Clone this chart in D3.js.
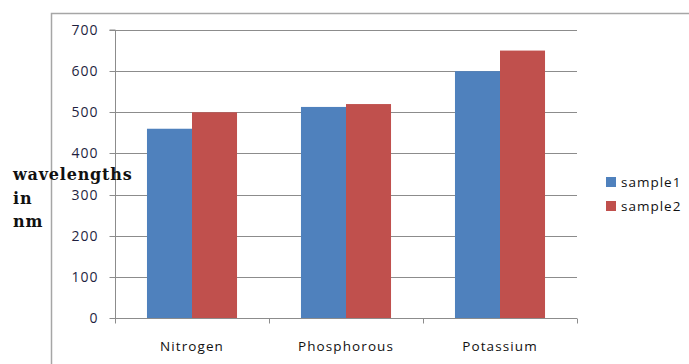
<!DOCTYPE html>
<html><head><meta charset="utf-8">
<script src="https://cdn.jsdelivr.net/npm/d3@7"></script>
<style>body{margin:0;background:#fff;}svg{display:block;}</style>
</head><body>
<script>
const categories = ["Nitrogen", "Phosphorous", "Potassium"];
const seriesNames = ["sample1", "sample2"];
const sample1 = [460, 513, 600];
const sample2 = [500, 520, 650];
const yTicks = [0, 100, 200, 300, 400, 500, 600, 700];
const colors = ["#4F81BD", "#C0504D"];

(function () {
const W = 689, H = 364;
const svg = d3.select("body").append("svg").attr("width", W).attr("height", H);
const font = "'Open Sans', 'Liberation Sans', sans-serif";

// outer frame
svg.append("rect").attr("x", 51.5).attr("y", 13.5).attr("width", 700).attr("height", 400)
  .attr("fill", "none").attr("stroke", "#A6A6A6").attr("stroke-width", 1.5);

const pl = 115, pr = 577, pt = 30, pb = 318;
const x = d3.scaleBand().domain(categories).range([pl, pr]).paddingInner(0).paddingOuter(0);
const y = d3.scaleLinear().domain([0, 700]).range([pb, pt]);

// gridlines
svg.append("g").selectAll("line").data(yTicks.filter(d => d > 0)).join("line")
  .attr("x1", pl).attr("x2", pr)
  .attr("y1", d => Math.round(y(d)) + 0.5).attr("y2", d => Math.round(y(d)) + 0.5)
  .attr("stroke", "#8C8C8C").attr("stroke-width", 1);

// bars
const inner = d3.scaleBand().domain(seriesNames).range([0, x.bandwidth()]).paddingOuter(0.71).paddingInner(0);
const data = [sample1, sample2];
seriesNames.forEach((s, si) => {
  svg.append("g").selectAll("rect").data(categories).join("rect")
    .attr("x", c => x(c) + inner(s))
    .attr("width", inner.bandwidth())
    .attr("y", (c, i) => y(data[si][i]))
    .attr("height", (c, i) => pb - y(data[si][i]))
    .attr("fill", colors[si]);
});

// y axis
const yAxis = svg.append("g").attr("transform", `translate(${pl + 0.5},0)`)
  .call(d3.axisLeft(y).tickValues(yTicks).tickSize(6).tickPadding(6).tickFormat(d3.format("d")));
yAxis.select(".domain").attr("stroke", "#8C8C8C").attr("d", `M-6,${pt}H0V${pb}`);
yAxis.selectAll(".tick line").attr("stroke", "#8C8C8C");
yAxis.selectAll(".tick text").attr("font-family", font).attr("font-size", 14).attr("letter-spacing", 1)
  .attr("fill", "#1F1F3F").attr("x", -17);
yAxis.selectAll(".tick").attr("transform", d => `translate(0,${Math.round(y(d)) + 0.5})`);

// x axis
const xAxis = svg.append("g").attr("transform", `translate(0,${pb + 0.5})`);
xAxis.append("line").attr("x1", pl).attr("x2", pr).attr("stroke", "#8C8C8C");
const bounds = [pl, ...categories.map(c => x(c) + x.bandwidth())];
xAxis.selectAll(".sep").data(bounds).join("line").attr("class", "sep")
  .attr("x1", d => Math.round(d) + 0.5).attr("x2", d => Math.round(d) + 0.5)
  .attr("y1", 0).attr("y2", 5).attr("stroke", "#8C8C8C");
xAxis.selectAll("text.cat").data(categories).join("text").attr("class", "cat")
  .attr("x", c => x(c) + x.bandwidth() / 2).attr("y", 32)
  .attr("text-anchor", "middle").attr("font-family", font).attr("font-size", 13.5).attr("letter-spacing", 1.1)
  .attr("fill", "#111").text(c => c);

// y title
const tt = svg.append("text").attr("font-family", "'DejaVu Serif', 'Liberation Serif', serif")
  .attr("font-weight", "bold").attr("font-size", 16).attr("letter-spacing", 0.8).attr("fill", "#111");
["wavelengths", "in", "nm"].forEach((t, i) => {
  tt.append("tspan").attr("x", 13).attr("y", 180 + i * 23.5).text(t);
});

// legend
const lg = svg.append("g");
seriesNames.forEach((s, i) => {
  lg.append("rect").attr("x", 606).attr("y", 177 + i * 24).attr("width", 10).attr("height", 10).attr("fill", colors[i]);
  lg.append("text").attr("x", 621).attr("y", 187 + i * 24).attr("font-family", font).attr("font-size", 13.5)
    .attr("letter-spacing", 1).attr("fill", "#111").text(s);
});
})();
</script>
</body></html>
